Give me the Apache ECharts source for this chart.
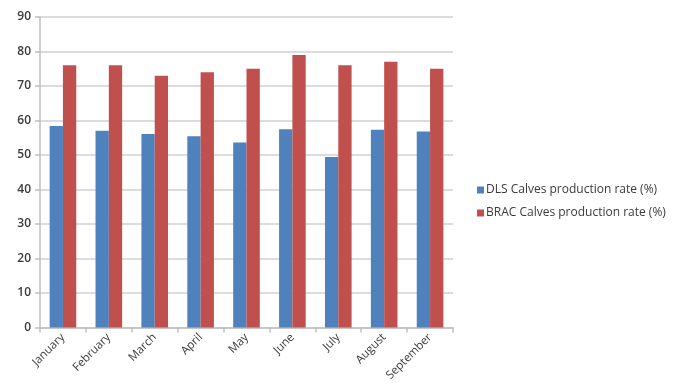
<!DOCTYPE html>
<html>
<head>
<meta charset="utf-8">
<script src="https://cdn.jsdelivr.net/npm/echarts@6/dist/echarts.min.js"></script>
<style>
html,body{margin:0;padding:0;background:#fff}
#chart_main{width:673px;height:388px}
</style>
</head>
<body>
<div id="chart_main"></div>
<script type="text/javascript">
var months = ['January','February','March','April','May','June','July','August','September'];
var dls_rate = [58.4, 57.0, 56.1, 55.4, 53.6, 57.5, 49.4, 57.3, 56.8];
var brac_rate = [76, 76, 73, 74, 75, 79, 76, 77, 75];
var y_ticks = [0,10,20,30,40,50,60,70,80,90];

var myChart = echarts.init(document.getElementById('chart_main'));
var font = '"Open Sans", "Liberation Sans", sans-serif';
var option = {
    animation: false,
    textStyle: {fontFamily: font},
    grid: {left: 40, right: 220, top: 17, bottom: 60.5, containLabel: false},
    legend: {
        orient: 'vertical',
        left: 472, top: 179,
        itemWidth: 7, itemHeight: 7, itemGap: 11,
        icon: 'rect',
        textStyle: {fontSize: 12, color: '#3a3a3a', fontFamily: font, padding: [0,0,0,-3]},
        data: ['DLS Calves production rate (%)', 'BRAC Calves production rate (%)']
    },
    xAxis: {
        type: 'category',
        data: months,
        axisLine: {lineStyle: {color: '#bfbfbf', width: 1.5}},
        axisTick: {show: true, alignWithLabel: false, length: 5, lineStyle: {color: '#bfbfbf', width: 1.5}},
        axisLabel: {rotate: 45, fontSize: 11.5, color: '#3a3a3a', margin: 8, interval: 0}
    },
    yAxis: {
        type: 'value',
        min: 0, max: 90, interval: 10,
        axisLine: {show: true, lineStyle: {color: '#bfbfbf', width: 1.5}},
        axisTick: {show: true, length: 5, lineStyle: {color: '#bfbfbf', width: 1.5}},
        axisLabel: {fontSize: 12, color: '#3a3a3a', margin: 9, fontWeight: 600,
            formatter: function(v){ return y_ticks.indexOf(v) >= 0 ? String(v) : ''; }},
        splitLine: {lineStyle: {color: '#d0d0d0', width: 1.5}}
    },
    series: [
        {name: 'DLS Calves production rate (%)', type: 'bar', data: dls_rate,
         itemStyle: {color: '#4F81BD'}, barGap: '0%', barCategoryGap: '42%'},
        {name: 'BRAC Calves production rate (%)', type: 'bar', data: brac_rate,
         itemStyle: {color: '#C0504D'}, barGap: '0%', barCategoryGap: '42%'}
    ]
};
myChart.setOption(option);
</script>
</body>
</html>
